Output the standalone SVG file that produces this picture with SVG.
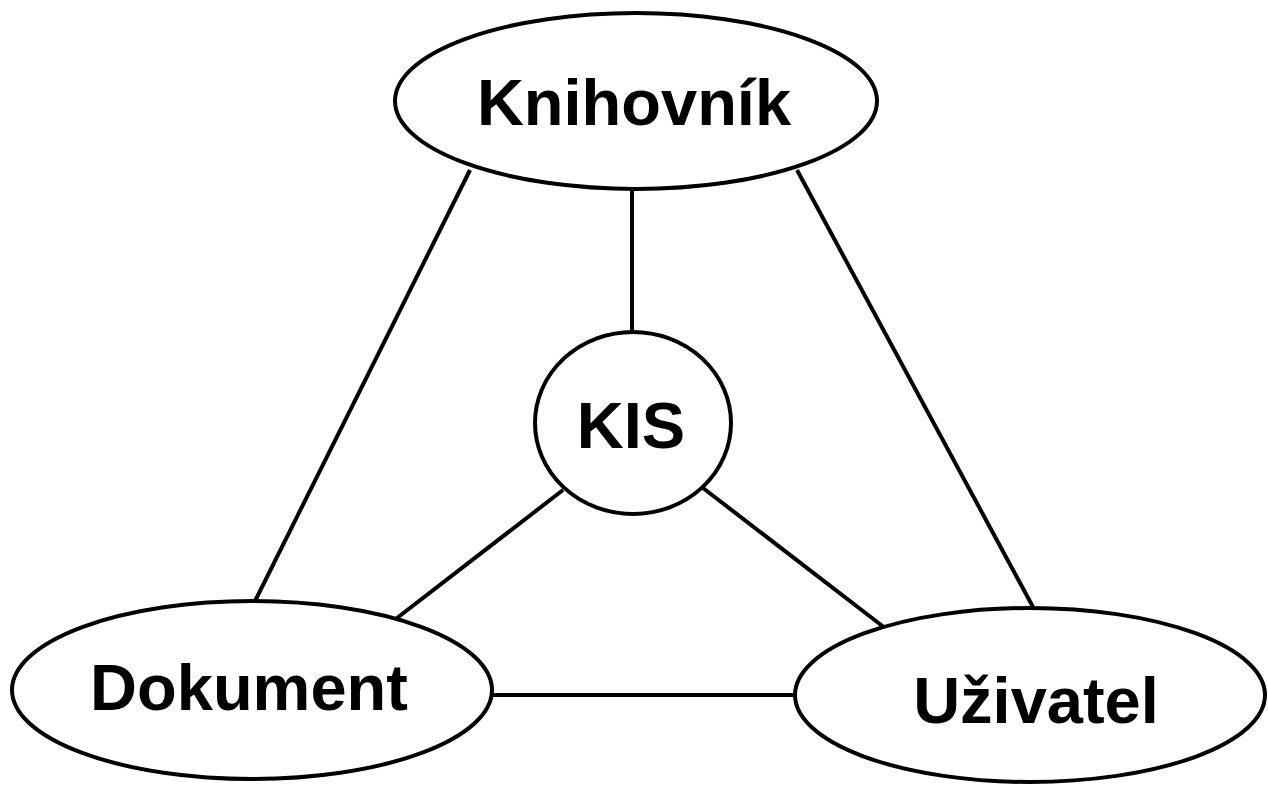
<svg xmlns="http://www.w3.org/2000/svg" width="1268" height="787" viewBox="0 0 1268 787">
<style>
.node{fill:#fff;stroke:#000;stroke-width:4}
.edge{stroke:#000;stroke-width:4;fill:none}
.lbl{font-family:"Liberation Sans",Arial,sans-serif;font-weight:bold;font-size:65px;fill:#000;text-anchor:middle}
</style>
<rect width="1268" height="787" fill="#fff"/>
<g id="connectors">
<line class="edge" x1="470" y1="170" x2="255" y2="601"/>
<line class="edge" x1="632" y1="189" x2="632" y2="333"/>
<line class="edge" x1="797" y1="170" x2="1033" y2="607"/>
<line class="edge" x1="563" y1="490" x2="397" y2="618"/>
<line class="edge" x1="703" y1="488" x2="885" y2="628"/>
<line class="edge" x1="492" y1="695" x2="797" y2="695"/>
</g>
<g id="knihovnik">
<ellipse class="node" cx="636" cy="101" rx="241" ry="88"/>
<text class="lbl" x="634" y="125">Knihovník</text>
</g>
<g id="kis">
<ellipse class="node" cx="633" cy="423" rx="98" ry="91"/>
<text class="lbl" x="631" y="448">KIS</text>
</g>
<g id="dokument">
<ellipse class="node" cx="252" cy="690" rx="240" ry="89"/>
<text class="lbl" x="249" y="710">Dokument</text>
</g>
<g id="uzivatel">
<ellipse class="node" cx="1030" cy="695" rx="235" ry="87"/>
<text class="lbl" x="1036" y="723">Uživatel</text>
</g>
</svg>
